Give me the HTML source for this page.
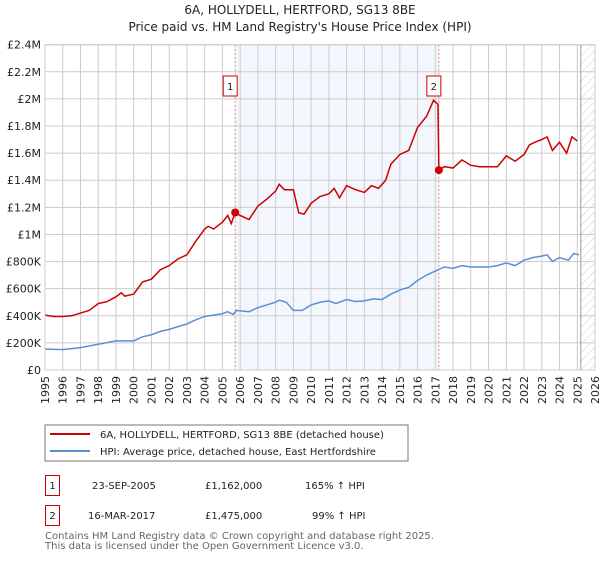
<!DOCTYPE html>
<html><head><meta charset="utf-8"><style>
body{margin:0;background:#fff;font-family:"DejaVu Sans","Liberation Sans",sans-serif;}
svg text{font-family:"DejaVu Sans","Liberation Sans",sans-serif;}
</style></head><body>
<svg id="c" width="600" height="560" xmlns="http://www.w3.org/2000/svg">
<defs><pattern id="hatch" width="6" height="6" patternUnits="userSpaceOnUse" patternTransform="rotate(45)"><line x1="0" y1="0" x2="0" y2="6" stroke="#ccc" stroke-width="1"/></pattern></defs>
<text x="300" y="14" text-anchor="middle" font-size="12" fill="#222">6A, HOLLYDELL, HERTFORD, SG13 8BE</text>
<text x="300" y="31" text-anchor="middle" font-size="12" fill="#222">Price paid vs. HM Land Registry's House Price Index (HPI)</text>
<g id="plot"></g>
<rect x="45" y="425" width="363" height="36" fill="#fff" stroke="#777"/>
<line x1="50" y1="434" x2="90" y2="434" stroke="#cc0000" stroke-width="2"/>
<text x="100" y="438" font-size="10" fill="#222">6A, HOLLYDELL, HERTFORD, SG13 8BE (detached house)</text>
<line x1="50" y1="451" x2="90" y2="451" stroke="#5b8fd4" stroke-width="2"/>
<text x="100" y="455" font-size="10" fill="#222">HPI: Average price, detached house, East Hertfordshire</text>
<rect x="45.5" y="475.5" width="14" height="20" fill="none" stroke="#cc0000"/>
<text x="52.5" y="489" text-anchor="middle" font-size="10" fill="#222">1</text>
<text x="92" y="489" font-size="10" fill="#222">23-SEP-2005</text>
<text x="205" y="489" font-size="10" fill="#222">£1,162,000</text>
<text x="305" y="489" font-size="10" fill="#222">165% ↑ HPI</text>
<rect x="45.5" y="505.5" width="14" height="20" fill="none" stroke="#cc0000"/>
<text x="52.5" y="519" text-anchor="middle" font-size="10" fill="#222">2</text>
<text x="88" y="519" font-size="10" fill="#222">16-MAR-2017</text>
<text x="205" y="519" font-size="10" fill="#222">£1,475,000</text>
<text x="312" y="519" font-size="10" fill="#222">99% ↑ HPI</text>
<text x="45" y="539" font-size="10" fill="#666">Contains HM Land Registry data © Crown copyright and database right 2025.</text>
<text x="45" y="549" font-size="10" fill="#666">This data is licensed under the Open Government Licence v3.0.</text>
</svg>
<script>
const yearTicks=[1995,1996,1997,1998,1999,2000,2001,2002,2003,2004,2005,2006,2007,2008,2009,2010,2011,2012,2013,2014,2015,2016,2017,2018,2019,2020,2021,2022,2023,2024,2025,2026];
const priceTicks=[0,200,400,600,800,1000,1200,1400,1600,1800,2000,2200,2400];
const priceTickLabels=["£0","£200K","£400K","£600K","£800K","£1M","£1.2M","£1.4M","£1.6M","£1.8M","£2M","£2.2M","£2.4M"];
const redDates=[1995,1995.5,1996,1996.5,1997,1997.5,1998,1998.5,1999,1999.3,1999.5,2000,2000.5,2001,2001.5,2002,2002.5,2003,2003.5,2004,2004.2,2004.5,2005,2005.3,2005.5,2005.72,2006,2006.5,2007,2007.5,2008,2008.2,2008.5,2009,2009.3,2009.6,2010,2010.5,2011,2011.3,2011.6,2012,2012.5,2013,2013.4,2013.8,2014.2,2014.5,2015,2015.5,2016,2016.5,2016.9,2017.15,2017.2,2017.5,2018,2018.5,2019,2019.5,2020,2020.5,2021,2021.5,2022,2022.3,2022.6,2023,2023.3,2023.6,2024,2024.4,2024.7,2025];
const redValues=[405,395,395,400,420,440,490,505,540,570,545,560,650,670,740,770,820,850,950,1040,1060,1040,1090,1140,1080,1162,1140,1110,1210,1260,1320,1370,1330,1330,1160,1150,1230,1280,1300,1340,1270,1360,1330,1310,1360,1340,1400,1520,1590,1620,1790,1870,1990,1960,1475,1500,1490,1550,1510,1500,1500,1500,1580,1540,1590,1660,1680,1700,1720,1620,1680,1600,1720,1690];
const hpiDates=[1995,1996,1997,1998,1999,2000,2000.5,2001,2001.5,2002,2002.5,2003,2003.5,2004,2004.5,2005,2005.3,2005.6,2005.8,2006.5,2007,2007.5,2008,2008.2,2008.6,2009,2009.5,2010,2010.5,2011,2011.4,2012,2012.5,2013,2013.5,2014,2014.5,2015,2015.5,2016,2016.5,2017,2017.5,2018,2018.5,2019,2020,2020.5,2021,2021.5,2022,2022.5,2023,2023.3,2023.6,2024,2024.5,2024.8,2025.1];
const hpiValues=[155,150,165,190,215,215,245,260,285,300,320,340,370,395,405,415,430,410,440,430,460,480,500,515,500,440,440,480,500,510,490,520,505,510,525,520,560,590,610,660,700,730,760,750,770,760,760,770,790,770,810,830,840,850,800,830,810,860,850];
const saleDates=[2005.72,2017.2];
const saleValues=[1162,1475];
const saleLabels=["1","2"];
const X0=45,X1=595,Y0=370,Y1=44.7;
const x=t=>X0+(t-1995)/(2026-1995)*(X1-X0);
const y=v=>Y0-v/2400*(Y0-Y1);
const NS="http://www.w3.org/2000/svg";
const g=document.getElementById('plot');
function mk(tag,attrs,parent){const e=document.createElementNS(NS,tag);for(const k in attrs)e.setAttribute(k,attrs[k]);(parent||g).appendChild(e);return e;}
let r=mk('rect',{x:X0,y:Y1,width:X1-X0,height:Y0-Y1,fill:'#fff'});


let sh=mk('rect',{x:x(saleDates[0]),y:Y1,width:x(saleDates[1])-x(saleDates[0]),height:Y0-Y1,fill:'#f3f6fd'});


let ht=mk('rect',{x:x(2025.2),y:Y1,width:X1-x(2025.2),height:Y0-Y1,fill:'url(#hatch)'});


yearTicks.forEach(t=>{
 let l=mk('line',{x1:x(t),x2:x(t),y1:Y1,y2:Y0,stroke:'#ccc','stroke-width':1});
 
 
 let tx=mk('text',{x:0,y:0,'font-size':11,fill:'#222','text-anchor':'end',transform:`translate(${x(t)+4},${Y0+6}) rotate(-90)`});
 tx.textContent=t;
 
 
});
priceTicks.forEach((v,i)=>{
 let l=mk('line',{x1:X0,x2:X1,y1:y(v),y2:y(v),stroke:'#ccc','stroke-width':1});
 
 
 let tx=mk('text',{x:X0-4,y:y(v)+4,'font-size':11,fill:'#222','text-anchor':'end'});
 tx.textContent=priceTickLabels[i];
 
 
});
let vl=mk('line',{x1:x(2025.2),x2:x(2025.2),y1:Y1,y2:Y0,stroke:'#999','stroke-width':1});


saleDates.forEach((d,i)=>{
 let l=mk('line',{x1:x(d),x2:x(d),y1:Y1,y2:Y0,stroke:'#e88','stroke-width':1,'stroke-dasharray':'2,2'});
 
 
});
let hp=mk('polyline',{points:hpiDates.map((d,i)=>x(d)+','+y(hpiValues[i])).join(' '),fill:'none',stroke:'#5b8fd4','stroke-width':1.5});


let rp=mk('polyline',{points:redDates.map((d,i)=>x(d)+','+y(redValues[i])).join(' '),fill:'none',stroke:'#cc0000','stroke-width':1.5});


saleDates.forEach((d,i)=>{
 let c=mk('circle',{cx:x(d),cy:y(saleValues[i]),r:4,fill:'#cc0000'});
 
 
 let b=mk('rect',{x:x(d)-12,y:76,width:14,height:20,fill:'#fff',stroke:'#cc0000'});
 
 
 let t=mk('text',{x:x(d)-5,y:90,'font-size':10,'text-anchor':'middle',fill:'#222'});
 t.textContent=saleLabels[i];
 
 
});
let fr=mk('rect',{x:X0,y:Y1,width:X1-X0,height:Y0-Y1,fill:'none',stroke:'#ccc'});


</script>
</body></html>
